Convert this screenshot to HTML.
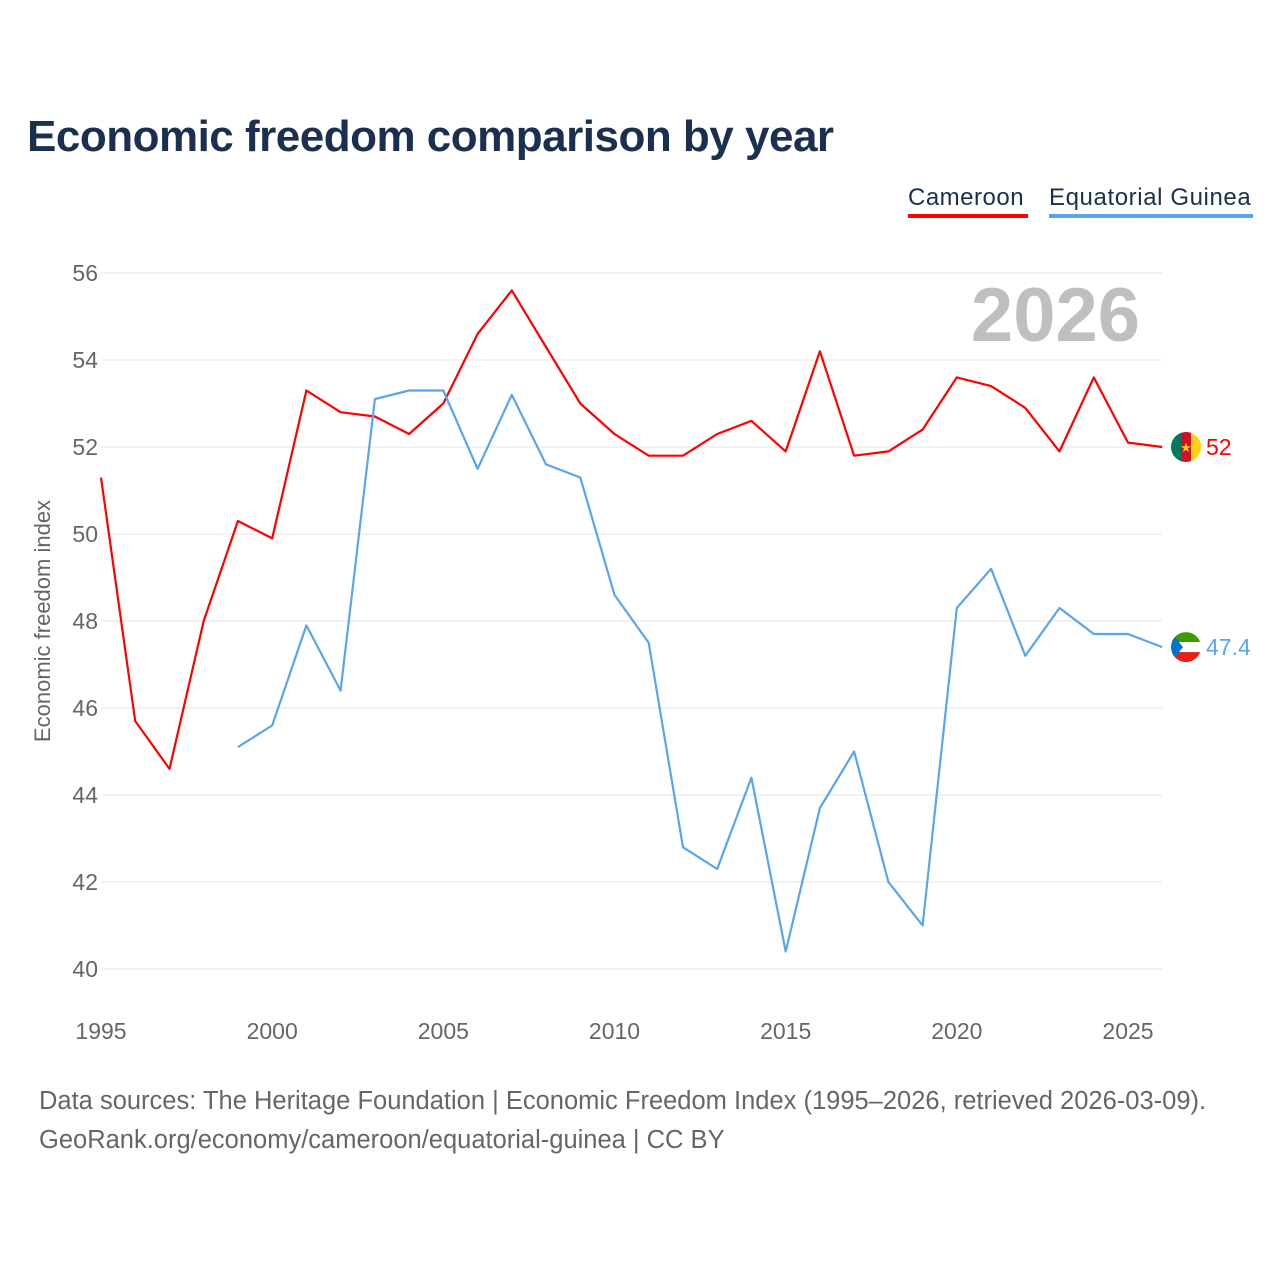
<!DOCTYPE html>
<html><head><meta charset="utf-8">
<style>
html,body{margin:0;padding:0;background:#fff;}
body{width:1280px;height:1280px;position:relative;font-family:"Liberation Sans",sans-serif;overflow:hidden;}
.title{position:absolute;left:27px;top:112px;font-size:44px;font-weight:bold;color:#1b2f4e;letter-spacing:-0.5px;}
.legend{position:absolute;top:184px;font-size:24px;color:#1b2f4e;padding-bottom:2px;white-space:nowrap;}
.src{position:absolute;left:39px;font-size:25.5px;color:#666;white-space:nowrap;}
svg{position:absolute;left:0;top:0;}
</style></head><body>
<div class="title">Economic freedom comparison by year</div>
<div class="legend" style="left:908px;width:120px;letter-spacing:0.5px;border-bottom:4px solid #ff0000;">Cameroon</div>
<div class="legend" style="left:1049px;width:204px;letter-spacing:0.6px;border-bottom:4px solid #5aa5ea;">Equatorial Guinea</div>
<div class="src" style="top:1087px">Data sources: The Heritage Foundation | Economic Freedom Index (1995–2026, retrieved 2026-03-09).</div>
<div class="src" style="top:1126px">GeoRank.org/economy/cameroon/equatorial-guinea | CC BY</div>
<svg id="chart" width="1280" height="1280"></svg>
<script>
const yTicks=[40,42,44,46,48,50,52,54,56];
const xTicks=[1995,2000,2005,2010,2015,2020,2025];
const camYears=[1995,1996,1997,1998,1999,2000,2001,2002,2003,2004,2005,2006,2007,2008,2009,2010,2011,2012,2013,2014,2015,2016,2017,2018,2019,2020,2021,2022,2023,2024,2025,2026];
const camValues=[51.3,45.7,44.6,48.0,50.3,49.9,53.3,52.8,52.7,52.3,53.0,54.6,55.6,54.3,53.0,52.3,51.8,51.8,52.3,52.6,51.9,54.2,51.8,51.9,52.4,53.6,53.4,52.9,51.9,53.6,52.1,52.0];
const eqgYears=[1999,2000,2001,2002,2003,2004,2005,2006,2007,2008,2009,2010,2011,2012,2013,2014,2015,2016,2017,2018,2019,2020,2021,2022,2023,2024,2025,2026];
const eqgValues=[45.1,45.6,47.9,46.4,53.1,53.3,53.3,51.5,53.2,51.6,51.3,48.6,47.5,42.8,42.3,44.4,40.4,43.7,45.0,42.0,41.0,48.3,49.2,47.2,48.3,47.7,47.7,47.4];
const NS="http://www.w3.org/2000/svg";
const svg=document.getElementById('chart');
function x(yr){return 101+(yr-1995)*(1027/30);}
function y(v){return 969-(v-40)*(696/16);}
function mk(tag,attrs,parent){const e=document.createElementNS(NS,tag);for(const k in attrs)e.setAttribute(k,attrs[k]);(parent||svg).appendChild(e);return e;}
yTicks.forEach(t=>{
  const l=mk('line',{x1:101,x2:1162,y1:y(t),y2:y(t),stroke:'#e6e6e6','stroke-width':1});
  
  
  const tx=mk('text',{x:98,y:y(t)+8,'text-anchor':'end','font-size':23,fill:'#666','font-family':'Liberation Sans, sans-serif'});
  tx.textContent=t;
  
  
});
xTicks.forEach(t=>{
  const tx=mk('text',{x:x(t),y:1039,'text-anchor':'middle','font-size':23,fill:'#666','font-family':'Liberation Sans, sans-serif'});
  tx.textContent=t;
  
  
});
const yt=mk('text',{x:0,y:0,transform:'translate(50,621) rotate(-90)','text-anchor':'middle','font-size':22,fill:'#666','font-family':'Liberation Sans, sans-serif'});
yt.textContent='Economic freedom index';


const yr=mk('text',{x:1140,y:341,'text-anchor':'end','font-size':76,'font-weight':'bold',fill:'#bfbfbf','font-family':'Liberation Sans, sans-serif'});
yr.textContent='2026';


function series(years,vals,color,name){
  const d=years.map((yy,i)=>(i?'L':'M')+x(yy).toFixed(1)+','+y(vals[i]).toFixed(1)).join(' ');
  const p=mk('path',{d:d,fill:'none',stroke:color,'stroke-width':2.2,'stroke-linejoin':'round'});
  
  
}
series(camYears,camValues,'#ff0000','cameroon');
series(eqgYears,eqgValues,'#5aa5ea','equatorial-guinea');
function flag(vals,kind,color,name){
  const v=vals[vals.length-1];const cx=1186,cy=y(v);
  const g=mk('g',{});
  
  
  const cp=mk('clipPath',{id:'c'+name},g);mk('circle',{cx:cx,cy:cy,r:15},cp);
  const gg=mk('g',{'clip-path':'url(#c'+name+')'},g);
  if(kind==='cm'){
    mk('rect',{x:cx-15,y:cy-15,width:10,height:30,fill:'#007a5e'},gg);
    mk('rect',{x:cx-5,y:cy-15,width:10,height:30,fill:'#ce1126'},gg);
    mk('rect',{x:cx+5,y:cy-15,width:10,height:30,fill:'#fcd116'},gg);
    const s=mk('text',{x:cx,y:cy+5,'text-anchor':'middle','font-size':13,fill:'#fcd116'},gg);s.textContent='★';
  }else{
    mk('rect',{x:cx-15,y:cy-15,width:30,height:10,fill:'#3e9a00'},gg);
    mk('rect',{x:cx-15,y:cy-5,width:30,height:10,fill:'#fff'},gg);
    mk('rect',{x:cx-15,y:cy+5,width:30,height:10,fill:'#e32118'},gg);
    mk('polygon',{points:(cx-15)+','+(cy-15)+' '+(cx-3)+','+cy+' '+(cx-15)+','+(cy+15),fill:'#0073ce'},gg);
  }
  const t=mk('text',{x:1206,y:cy+8,'font-size':23,fill:color,'font-family':'Liberation Sans, sans-serif'});
  t.textContent=String(v);
  
  
}
flag(camValues,'cm','#ff0000','cameroon');
flag(eqgValues,'gq','#5aa5ea','equatorial-guinea');
</script>
</body></html>
